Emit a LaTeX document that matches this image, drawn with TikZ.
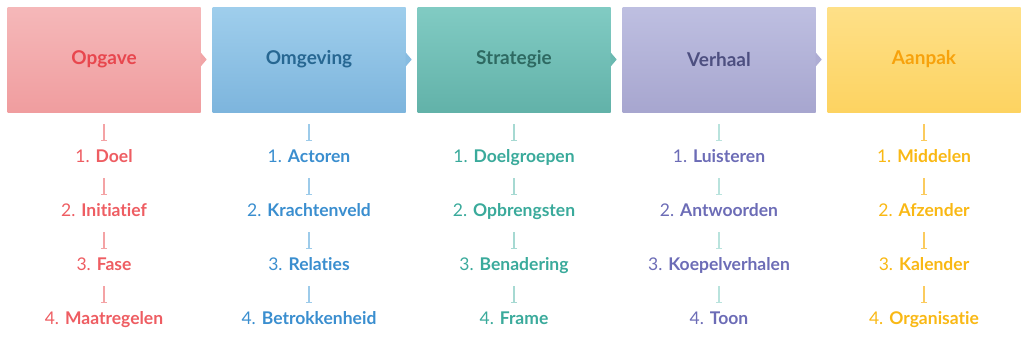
\documentclass[tikz,border=0pt]{standalone}
\usepackage{fontspec}
\setmainfont{Lato}[Ligatures=NoCommon]
\usetikzlibrary{arrows.meta}

\definecolor{redA}{HTML}{F5B8B9}  \definecolor{redB}{HTML}{F09D9F}
\definecolor{redT}{HTML}{E8474E}  \definecolor{redI}{HTML}{EE5D62}  \definecolor{redL}{HTML}{F4A3A5}
\definecolor{bluA}{HTML}{9FCEEC}  \definecolor{bluB}{HTML}{7DB5DD}
\definecolor{bluT}{HTML}{276792}  \definecolor{bluI}{HTML}{3A8ECF}  \definecolor{bluL}{HTML}{9DCBEA}
\definecolor{grnA}{HTML}{81CBC3}  \definecolor{grnB}{HTML}{62B2A9}
\definecolor{grnT}{HTML}{2E6A62}  \definecolor{grnI}{HTML}{3AAA9B}  \definecolor{grnL}{HTML}{A6D9D2}
\definecolor{purA}{HTML}{BEBFE1}  \definecolor{purB}{HTML}{A7A6CF}
\definecolor{purT}{HTML}{4D4F80}  \definecolor{purI}{HTML}{6C6CB6}  \definecolor{purL}{HTML}{B9E3DD}
\definecolor{yelA}{HTML}{FEE088}  \definecolor{yelB}{HTML}{FDD361}
\definecolor{yelT}{HTML}{F7A20C}  \definecolor{yelI}{HTML}{F9B814}  \definecolor{yelL}{HTML}{FBCB5E}

\tikzset{
  phase/.style={minimum width=193pt, minimum height=105pt, inner sep=0pt,
    font=\fontsize{19}{19}\selectfont\bfseries},
  item/.style={inner sep=0pt, text height=12pt, text depth=4pt,
    font=\fontsize{17.5}{17.5}\selectfont},
  link/.style={line width=1.3pt, -{Bar[width=6pt,line width=1.3pt]},
    shorten <=12pt, shorten >=8.5pt}
}
\newcommand{\stap}[2]{#1. \textbf{#2}}

\begin{document}
\begin{tikzpicture}[x=1pt, y=1pt]
\useasboundingbox (0,0) rectangle (1024,-348);

% fases
\node[phase, top color=redA, bottom color=redB, text=redT] (opgave) at (104,-59.5) {Opgave};
\node[phase, top color=bluA, bottom color=bluB, text=bluT] (omgeving) at (309,-59.5) {Omgeving};
\node[phase, top color=grnA, bottom color=grnB, text=grnT] (strategie) at (514,-59.5) {Strategie};
\node[phase, top color=purA, bottom color=purB, text=purT] (verhaal) at (719,-59.5) {Verhaal};
\node[phase, top color=yelA, bottom color=yelB, text=yelT] (aanpak) at (924,-59.5) {Aanpak};

\fill[redB!70!redA] (opgave.east) ++(0,7) -- ++(6,-7) -- ++(-6,-7) -- cycle;
\fill[bluB!70!bluA] (omgeving.east) ++(0,7) -- ++(6,-7) -- ++(-6,-7) -- cycle;
\fill[grnB!70!grnA] (strategie.east) ++(0,7) -- ++(6,-7) -- ++(-6,-7) -- cycle;
\fill[purB!70!purA] (verhaal.east) ++(0,7) -- ++(6,-7) -- ++(-6,-7) -- cycle;

% stappen
\node[item, text=redI] (opgave1) at (104,-158) {\stap{1}{Doel}};
\node[item, text=redI] (opgave2) at (104,-212) {\stap{2}{Initiatief}};
\node[item, text=redI] (opgave3) at (104,-266) {\stap{3}{Fase}};
\node[item, text=redI] (opgave4) at (104,-320) {\stap{4}{Maatregelen}};

\node[item, text=bluI] (omgeving1) at (309,-158) {\stap{1}{Actoren}};
\node[item, text=bluI] (omgeving2) at (309,-212) {\stap{2}{Krachtenveld}};
\node[item, text=bluI] (omgeving3) at (309,-266) {\stap{3}{Relaties}};
\node[item, text=bluI] (omgeving4) at (309,-320) {\stap{4}{Betrokkenheid}};

\node[item, text=grnI] (strategie1) at (514,-158) {\stap{1}{Doelgroepen}};
\node[item, text=grnI] (strategie2) at (514,-212) {\stap{2}{Opbrengsten}};
\node[item, text=grnI] (strategie3) at (514,-266) {\stap{3}{Benadering}};
\node[item, text=grnI] (strategie4) at (514,-320) {\stap{4}{Frame}};

\node[item, text=purI] (verhaal1) at (719,-158) {\stap{1}{Luisteren}};
\node[item, text=purI] (verhaal2) at (719,-212) {\stap{2}{Antwoorden}};
\node[item, text=purI] (verhaal3) at (719,-266) {\stap{3}{Koepelverhalen}};
\node[item, text=purI] (verhaal4) at (719,-320) {\stap{4}{Toon}};

\node[item, text=yelI] (aanpak1) at (924,-158) {\stap{1}{Middelen}};
\node[item, text=yelI] (aanpak2) at (924,-212) {\stap{2}{Afzender}};
\node[item, text=yelI] (aanpak3) at (924,-266) {\stap{3}{Kalender}};
\node[item, text=yelI] (aanpak4) at (924,-320) {\stap{4}{Organisatie}};

% verbindingen
\foreach \f/\c in {opgave/redL, omgeving/bluL, strategie/grnL, verhaal/purL, aanpak/yelL} {
  \draw[link, \c] (\f.south) -- (\f1.north);
  \draw[link, \c] (\f1.south) -- (\f2.north);
  \draw[link, \c] (\f2.south) -- (\f3.north);
  \draw[link, \c] (\f3.south) -- (\f4.north);
}
\end{tikzpicture}
\end{document}
